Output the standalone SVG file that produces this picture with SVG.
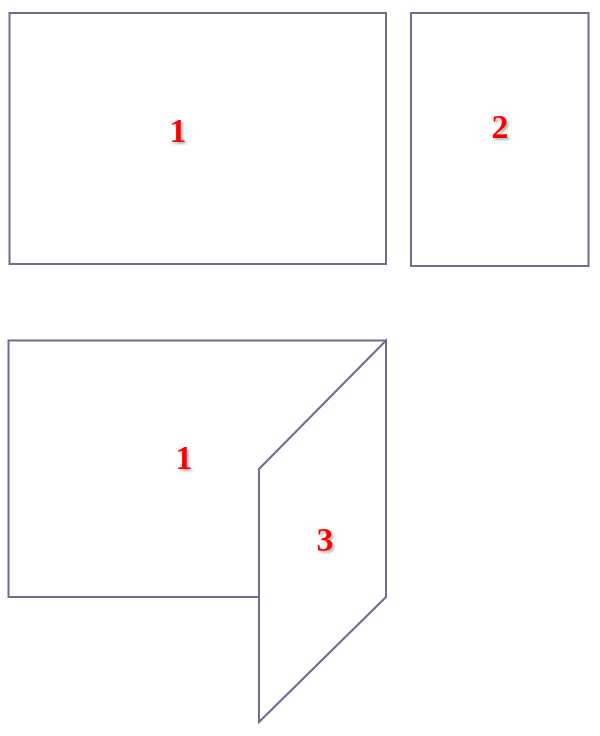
<svg xmlns="http://www.w3.org/2000/svg" width="600" height="736" viewBox="0 0 600 736">
<defs>
<filter id="shadow" x="-50%" y="-50%" width="200%" height="200%">
<feDropShadow dx="2" dy="2" stdDeviation="1" flood-color="#808080" flood-opacity="0.6"/>
</filter>
<style>
.s{fill:none;stroke:#6f6d8f;stroke-width:2;stroke-linejoin:miter}
.l{font-family:"Liberation Serif",serif;font-weight:bold;font-size:34px;fill:#ff0000;text-anchor:middle;filter:url(#shadow)}
</style>
</defs>
<rect width="600" height="736" fill="#ffffff"/>
<g id="rect1">
<rect class="s" x="9.5" y="13" width="376.5" height="251"/>
<text class="l" x="178" y="142">1</text>
</g>
<g id="rect2">
<rect class="s" x="411" y="13" width="177.5" height="253"/>
<text class="l" x="500" y="138">2</text>
</g>
<g id="face1">
<path class="s" d="M259,597 L8.5,597 L8.5,340.5 L386,340.5"/>
<text class="l" x="184" y="469">1</text>
</g>
<g id="face3">
<path class="s" d="M386,340.5 L259,469 L259,722 L386,597 Z"/>
<text class="l" x="325" y="551">3</text>
</g>
</svg>
